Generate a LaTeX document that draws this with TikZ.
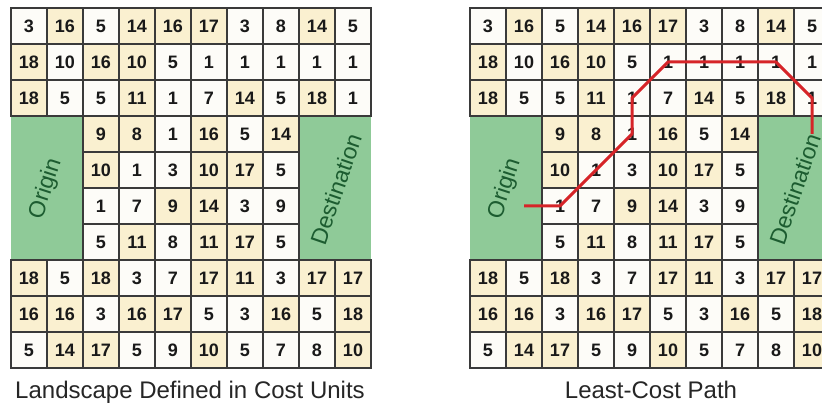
\documentclass[tikz,border=0pt]{standalone}
\usepackage{fontspec}
\setmainfont{Liberation Sans}
\usepackage{tikz}

\definecolor{cellcream}{RGB}{250,240,208}
\definecolor{cellwhite}{RGB}{253,252,248}
\definecolor{zonegreen}{RGB}{143,202,152}
\definecolor{zonetext}{RGB}{28,92,48}
\definecolor{gridline}{RGB}{58,58,58}
\definecolor{pathred}{RGB}{214,36,40}

\tikzset{
  cell/.style={draw=gridline,line width=1.8pt,minimum size=36pt,inner sep=0pt,
    font=\fontsize{18}{18}\selectfont\bfseries,text=black!90},
  shade0/.style={fill=cellwhite},
  shade1/.style={fill=cellcream},
  zone/.style={fill=zonegreen},
  zonelabel/.style={text=zonetext,font=\fontsize{23}{23}\selectfont},
  caption/.style={font=\fontsize{24}{24}\selectfont,text=black!85,anchor=base},
  lcp/.style={pathred,line width=3pt,line join=round}
}

\begin{document}
\begin{tikzpicture}[x=1pt,y=-1pt]
  \useasboundingbox (0,0) rectangle (822,403);
  \clip (0,0) rectangle (822,403);
  \fill[white] (0,0) rectangle (822,403);

  \foreach \g/\ox in {L/0,R/459} {
    % origin and destination zones
    \fill[zone] (\ox+11,116) rectangle (\ox+83,260);
    \fill[zone] (\ox+299,116) rectangle (\ox+371,260);
    % cost cells: value/shade (2 = inside a zone)
    \foreach \r/\cells in {
      1/{3/0,16/1,5/0,14/1,16/1,17/1,3/0,8/0,14/1,5/0},
      2/{18/1,10/0,16/1,10/1,5/0,1/0,1/0,1/0,1/0,1/0},
      3/{18/1,5/0,5/0,11/1,1/0,7/0,14/1,5/0,18/1,1/0},
      4/{x/2,x/2,9/1,8/1,1/0,16/1,5/0,14/1,x/2,x/2},
      5/{x/2,x/2,10/1,1/0,3/0,10/1,17/1,5/0,x/2,x/2},
      6/{x/2,x/2,1/0,7/0,9/1,14/1,3/0,9/0,x/2,x/2},
      7/{x/2,x/2,5/0,11/1,8/0,11/1,17/1,5/0,x/2,x/2},
      8/{18/1,5/0,18/1,3/0,7/0,17/1,11/1,3/0,17/1,17/1},
      9/{16/1,16/1,3/0,16/1,17/1,5/0,3/0,16/1,5/0,18/1},
      10/{5/0,14/1,17/1,5/0,9/0,10/1,5/0,7/0,8/0,10/1}} {
      \foreach \v/\s [count=\c] in \cells {
        \ifnum\s=2
          \coordinate (\g-\r-\c) at (\ox+36*\c-7,36*\r-10);
        \else
          \node[cell,shade\s] (\g-\r-\c) at (\ox+36*\c-7,36*\r-10) {\v};
        \fi
      }
    }
    \node[zonelabel,rotate=72] (\g-origin) at (\ox+46,189) {Origin};
    \node[zonelabel,rotate=71] (\g-dest) at (\ox+336,189) {Destination};
  }

  \node[caption] (L-caption) at (190,398) {Landscape Defined in Cost Units};
  \node[caption] (R-caption) at (651,398) {Least-Cost Path};

  % least-cost route
  \draw[lcp] (R-6-2) -- (R-6-3.center) -- (R-4-5.center) -- (R-3-5.center)
    -- (R-2-6.center) -- (R-2-9.center) -- (R-3-10.center) -- (R-4-10);
\end{tikzpicture}
\end{document}
